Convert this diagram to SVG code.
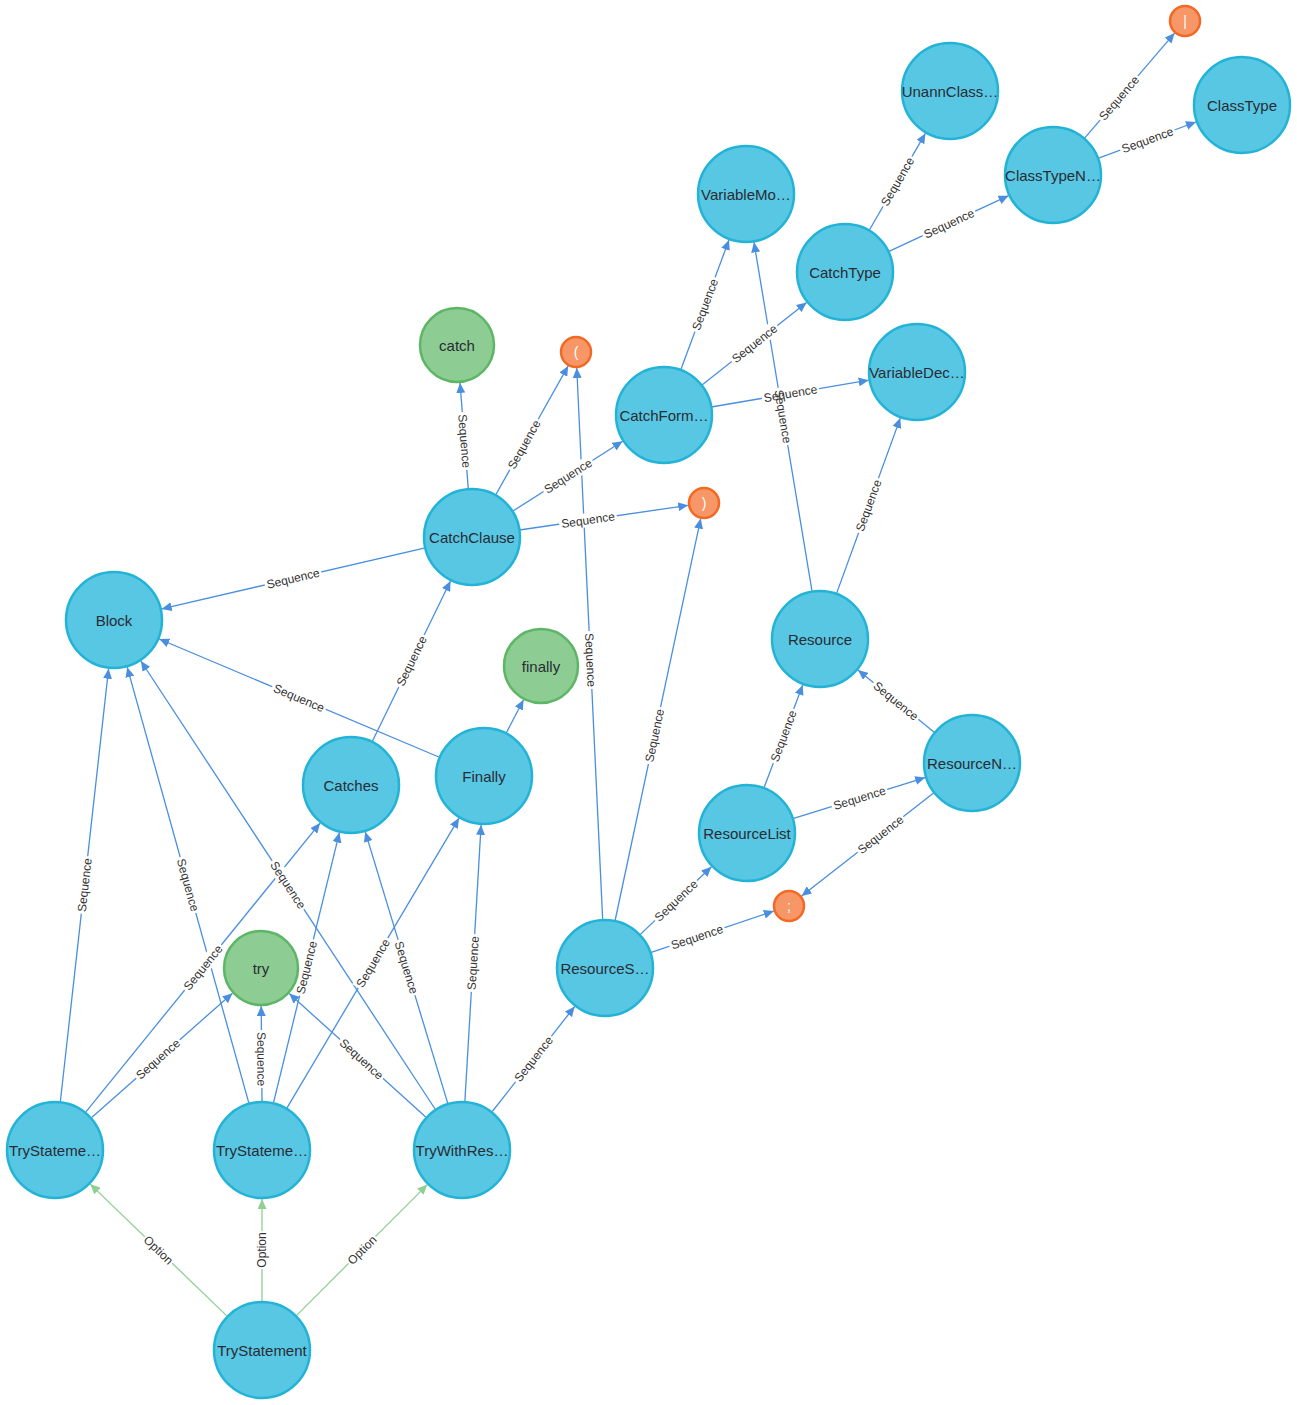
<svg xmlns="http://www.w3.org/2000/svg" width="1297" height="1405" viewBox="0 0 1297 1405">
<style>
.e{stroke:#4A8FDF;stroke-width:1.3;fill:none;marker-end:url(#ab)}
.o{stroke:#8FCF93;stroke-width:1.3;fill:none;marker-end:url(#ag)}
.bg rect{fill:#fff}
.sq{x:-29px;y:-7px;width:58px;height:14px}
.op{x:-19px;y:-7px;width:38px;height:14px}
.lt text{font-family:"Liberation Sans",Arial,sans-serif;font-size:12px;fill:#333;text-anchor:middle}
.nb circle{fill:#57C7E3;stroke:#23B3D7;stroke-width:2.5}
.ng circle{fill:#8DCC93;stroke:#5DB665;stroke-width:2.5}
.nr circle{fill:#F79767;stroke:#F36924;stroke-width:2.5}
.n text{font-family:"Liberation Sans",Arial,sans-serif;font-size:15px;fill:#2A2C34;text-anchor:middle}
.nr text{fill:#fff;font-size:14px}
</style>
<defs>
<marker id="ab" markerUnits="userSpaceOnUse" markerWidth="11" markerHeight="9" refX="10" refY="4.5" orient="auto"><path d="M0,0 L10,4.5 L0,9 z" fill="#4A8FDF"/></marker>
<marker id="ag" markerUnits="userSpaceOnUse" markerWidth="11" markerHeight="9" refX="10" refY="4.5" orient="auto"><path d="M0,0 L10,4.5 L0,9 z" fill="#8FCF93"/></marker>
</defs>
<rect width="1297" height="1405" fill="#fff"/>
<g id="connectors">
<line class="o" x1="226.8" y1="1315.9" x2="90.2" y2="1184.1"/>
<line class="o" x1="262" y1="1301" x2="262" y2="1199"/>
<line class="o" x1="296.6" y1="1315.4" x2="427.4" y2="1184.6"/>
<line class="e" x1="60.4" y1="1101.3" x2="108.6" y2="668.7"/>
<line class="e" x1="85.9" y1="1111.9" x2="320.1" y2="823.1"/>
<line class="e" x1="91.7" y1="1117.6" x2="232.5" y2="993.2"/>
<line class="e" x1="248.8" y1="1102.8" x2="127.2" y2="667.2"/>
<line class="e" x1="262" y1="1101" x2="261.2" y2="1006"/>
<line class="e" x1="273.6" y1="1102.4" x2="339.4" y2="832.6"/>
<line class="e" x1="287" y1="1107.9" x2="459" y2="818.1"/>
<line class="e" x1="435.1" y1="1109" x2="140.9" y2="661"/>
<line class="e" x1="425.7" y1="1117.1" x2="289.2" y2="993.5"/>
<line class="e" x1="447.7" y1="1103.1" x2="365.3" y2="831.9"/>
<line class="e" x1="464.9" y1="1101.1" x2="481.1" y2="824.9"/>
<line class="e" x1="492.3" y1="1111.5" x2="574.7" y2="1006.5"/>
<line class="e" x1="372.5" y1="741" x2="450.5" y2="581"/>
<line class="e" x1="438.8" y1="757" x2="159.2" y2="639"/>
<line class="e" x1="506.5" y1="732.5" x2="523.5" y2="699.7"/>
<line class="e" x1="425.3" y1="547.8" x2="161.7" y2="608.9"/>
<line class="e" x1="468.3" y1="489.1" x2="460" y2="382.9"/>
<line class="e" x1="495.5" y1="495.2" x2="568.2" y2="365.9"/>
<line class="e" x1="512.5" y1="511.3" x2="622.6" y2="441.3"/>
<line class="e" x1="519.5" y1="530" x2="688.2" y2="505.3"/>
<line class="e" x1="680.7" y1="370" x2="729" y2="239.9"/>
<line class="e" x1="701.7" y1="385.2" x2="806.6" y2="302.4"/>
<line class="e" x1="711.3" y1="407" x2="868.7" y2="380.2"/>
<line class="e" x1="869.1" y1="230.5" x2="925.4" y2="133.4"/>
<line class="e" x1="888.5" y1="251.7" x2="1008.6" y2="195.7"/>
<line class="e" x1="1084.2" y1="138.6" x2="1174.6" y2="33.1"/>
<line class="e" x1="1098" y1="158.3" x2="1196" y2="122"/>
<line class="e" x1="812.1" y1="591.6" x2="754" y2="242.3"/>
<line class="e" x1="836.4" y1="593.9" x2="900.3" y2="418.1"/>
<line class="e" x1="602.7" y1="920.1" x2="576.75" y2="368"/>
<line class="e" x1="615" y1="921" x2="700.7" y2="518.6"/>
<line class="e" x1="639.8" y1="934.9" x2="711.5" y2="866.8"/>
<line class="e" x1="650.5" y1="952.7" x2="773.8" y2="911.1"/>
<line class="e" x1="763.9" y1="788.1" x2="802.7" y2="684.9"/>
<line class="e" x1="792.8" y1="818.7" x2="925.2" y2="777.6"/>
<line class="e" x1="934.8" y1="732.7" x2="858" y2="670"/>
<line class="e" x1="934.2" y1="792.6" x2="801.6" y2="896.1"/>
</g>
<g id="connector-label-backgrounds" class="bg">
<rect class="op" transform="translate(158.5,1250) rotate(44)"/>
<rect class="op" transform="translate(262,1250) rotate(-90)"/>
<rect class="op" transform="translate(362,1250) rotate(-45)"/>
<rect class="sq" transform="translate(84.5,885) rotate(-83.6)"/>
<rect class="sq" transform="translate(203,967.5) rotate(-51)"/>
<rect class="sq" transform="translate(158,1059) rotate(-41.5)"/>
<rect class="sq" transform="translate(188,885) rotate(74.4)"/>
<rect class="sq" transform="translate(261.5,1059) rotate(89.7)"/>
<rect class="sq" transform="translate(306.5,967.5) rotate(-76.3)"/>
<rect class="sq" transform="translate(373,963) rotate(-59.3)"/>
<rect class="sq" transform="translate(288,885) rotate(56.7)"/>
<rect class="sq" transform="translate(361.5,1059) rotate(42.2)"/>
<rect class="sq" transform="translate(406.5,967.5) rotate(73.1)"/>
<rect class="sq" transform="translate(473,963) rotate(-86.6)"/>
<rect class="sq" transform="translate(533.5,1059) rotate(-51.8)"/>
<rect class="sq" transform="translate(411.5,661) rotate(-64)"/>
<rect class="sq" transform="translate(299,698) rotate(22.9)"/>
<rect class="sq" transform="translate(293,578.5) rotate(-13.05)"/>
<rect class="sq" transform="translate(464.5,441) rotate(85.5)"/>
<rect class="sq" transform="translate(524,444.5) rotate(-60.7)"/>
<rect class="sq" transform="translate(568,476) rotate(-32.4)"/>
<rect class="sq" transform="translate(588,520) rotate(-8.34)"/>
<rect class="sq" transform="translate(705,304.5) rotate(-69.6)"/>
<rect class="sq" transform="translate(754.5,343.5) rotate(-38.3)"/>
<rect class="sq" transform="translate(790.5,393.5) rotate(-9.65)"/>
<rect class="sq" transform="translate(897.5,181.5) rotate(-59.9)"/>
<rect class="sq" transform="translate(949,223.5) rotate(-25)"/>
<rect class="sq" transform="translate(1119,98) rotate(-49.4)"/>
<rect class="sq" transform="translate(1147.5,140) rotate(-20.3)"/>
<rect class="sq" transform="translate(783,416.5) rotate(80.56)"/>
<rect class="sq" transform="translate(868.5,505.5) rotate(-70)"/>
<rect class="sq" transform="translate(590.5,660) rotate(87.3)"/>
<rect class="sq" transform="translate(654.5,735.5) rotate(-78)"/>
<rect class="sq" transform="translate(676,900.5) rotate(-43.6)"/>
<rect class="sq" transform="translate(697,937) rotate(-18.6)"/>
<rect class="sq" transform="translate(783.5,736) rotate(-69.4)"/>
<rect class="sq" transform="translate(859.5,798) rotate(-17.3)"/>
<rect class="sq" transform="translate(896,701) rotate(39.2)"/>
<rect class="sq" transform="translate(880.5,834.5) rotate(-38)"/>
</g>
<g id="connector-labels" class="lt">
<text transform="translate(158.5,1250) rotate(44)" y="4.2">Option</text>
<text transform="translate(262,1250) rotate(-90)" y="4.2">Option</text>
<text transform="translate(362,1250) rotate(-45)" y="4.2">Option</text>
<text transform="translate(84.5,885) rotate(-83.6)" y="4.2">Sequence</text>
<text transform="translate(203,967.5) rotate(-51)" y="4.2">Sequence</text>
<text transform="translate(158,1059) rotate(-41.5)" y="4.2">Sequence</text>
<text transform="translate(188,885) rotate(74.4)" y="4.2">Sequence</text>
<text transform="translate(261.5,1059) rotate(89.7)" y="4.2">Sequence</text>
<text transform="translate(306.5,967.5) rotate(-76.3)" y="4.2">Sequence</text>
<text transform="translate(373,963) rotate(-59.3)" y="4.2">Sequence</text>
<text transform="translate(288,885) rotate(56.7)" y="4.2">Sequence</text>
<text transform="translate(361.5,1059) rotate(42.2)" y="4.2">Sequence</text>
<text transform="translate(406.5,967.5) rotate(73.1)" y="4.2">Sequence</text>
<text transform="translate(473,963) rotate(-86.6)" y="4.2">Sequence</text>
<text transform="translate(533.5,1059) rotate(-51.8)" y="4.2">Sequence</text>
<text transform="translate(411.5,661) rotate(-64)" y="4.2">Sequence</text>
<text transform="translate(299,698) rotate(22.9)" y="4.2">Sequence</text>
<text transform="translate(293,578.5) rotate(-13.05)" y="4.2">Sequence</text>
<text transform="translate(464.5,441) rotate(85.5)" y="4.2">Sequence</text>
<text transform="translate(524,444.5) rotate(-60.7)" y="4.2">Sequence</text>
<text transform="translate(568,476) rotate(-32.4)" y="4.2">Sequence</text>
<text transform="translate(588,520) rotate(-8.34)" y="4.2">Sequence</text>
<text transform="translate(705,304.5) rotate(-69.6)" y="4.2">Sequence</text>
<text transform="translate(754.5,343.5) rotate(-38.3)" y="4.2">Sequence</text>
<text transform="translate(790.5,393.5) rotate(-9.65)" y="4.2">Sequence</text>
<text transform="translate(897.5,181.5) rotate(-59.9)" y="4.2">Sequence</text>
<text transform="translate(949,223.5) rotate(-25)" y="4.2">Sequence</text>
<text transform="translate(1119,98) rotate(-49.4)" y="4.2">Sequence</text>
<text transform="translate(1147.5,140) rotate(-20.3)" y="4.2">Sequence</text>
<text transform="translate(783,416.5) rotate(80.56)" y="4.2">Sequence</text>
<text transform="translate(868.5,505.5) rotate(-70)" y="4.2">Sequence</text>
<text transform="translate(590.5,660) rotate(87.3)" y="4.2">Sequence</text>
<text transform="translate(654.5,735.5) rotate(-78)" y="4.2">Sequence</text>
<text transform="translate(676,900.5) rotate(-43.6)" y="4.2">Sequence</text>
<text transform="translate(697,937) rotate(-18.6)" y="4.2">Sequence</text>
<text transform="translate(783.5,736) rotate(-69.4)" y="4.2">Sequence</text>
<text transform="translate(859.5,798) rotate(-17.3)" y="4.2">Sequence</text>
<text transform="translate(896,701) rotate(39.2)" y="4.2">Sequence</text>
<text transform="translate(880.5,834.5) rotate(-38)" y="4.2">Sequence</text>
</g>
<g id="nodes">
<g id="n-TryStatement" class="n nb"><circle cx="262" cy="1350" r="48"/><text x="262" y="1356">TryStatement</text></g>
<g id="n-TryStatement1" class="n nb"><circle cx="55" cy="1150" r="48"/><text x="55" y="1156">TryStateme…</text></g>
<g id="n-TryStatement2" class="n nb"><circle cx="262" cy="1150" r="48"/><text x="262" y="1156">TryStateme…</text></g>
<g id="n-TryWithResources" class="n nb"><circle cx="462" cy="1150" r="48"/><text x="462" y="1156">TryWithRes…</text></g>
<g id="n-try" class="n ng"><circle cx="261" cy="968" r="37"/><text x="261" y="974">try</text></g>
<g id="n-Block" class="n nb"><circle cx="114" cy="620" r="48"/><text x="114" y="626">Block</text></g>
<g id="n-Catches" class="n nb"><circle cx="351" cy="785" r="48"/><text x="351" y="791">Catches</text></g>
<g id="n-Finally" class="n nb"><circle cx="484" cy="776" r="48"/><text x="484" y="782">Finally</text></g>
<g id="n-finally" class="n ng"><circle cx="541" cy="666" r="37"/><text x="541" y="672">finally</text></g>
<g id="n-CatchClause" class="n nb"><circle cx="472" cy="537" r="48"/><text x="472" y="543">CatchClause</text></g>
<g id="n-catch" class="n ng"><circle cx="457" cy="345" r="37"/><text x="457" y="351">catch</text></g>
<g id="n-lparen" class="n nr"><circle cx="576" cy="352" r="15"/><text x="576" y="357">(</text></g>
<g id="n-rparen" class="n nr"><circle cx="704" cy="503" r="15"/><text x="704" y="508">)</text></g>
<g id="n-CatchFormal" class="n nb"><circle cx="664" cy="415" r="48"/><text x="664" y="421">CatchForm…</text></g>
<g id="n-VariableModifier" class="n nb"><circle cx="746" cy="194" r="48"/><text x="746" y="200">VariableMo…</text></g>
<g id="n-CatchType" class="n nb"><circle cx="845" cy="272" r="48"/><text x="845" y="278">CatchType</text></g>
<g id="n-UnannClass" class="n nb"><circle cx="950" cy="91" r="48"/><text x="950" y="97">UnannClass…</text></g>
<g id="n-ClassTypeN" class="n nb"><circle cx="1053" cy="175" r="48"/><text x="1053" y="181">ClassTypeN…</text></g>
<g id="n-pipe" class="n nr"><circle cx="1185" cy="21" r="15"/><text x="1185" y="26">|</text></g>
<g id="n-ClassType" class="n nb"><circle cx="1242" cy="105" r="48"/><text x="1242" y="111">ClassType</text></g>
<g id="n-VariableDec" class="n nb"><circle cx="917" cy="372" r="48"/><text x="917" y="378">VariableDec…</text></g>
<g id="n-Resource" class="n nb"><circle cx="820" cy="639" r="48"/><text x="820" y="645">Resource</text></g>
<g id="n-ResourceN" class="n nb"><circle cx="972" cy="763" r="48"/><text x="972" y="769">ResourceN…</text></g>
<g id="n-ResourceList" class="n nb"><circle cx="747" cy="833" r="48"/><text x="747" y="839">ResourceList</text></g>
<g id="n-semi" class="n nr"><circle cx="789" cy="906" r="15"/><text x="789" y="911">;</text></g>
<g id="n-ResourceS" class="n nb"><circle cx="605" cy="968" r="48"/><text x="605" y="974">ResourceS…</text></g>
</g>
</svg>
